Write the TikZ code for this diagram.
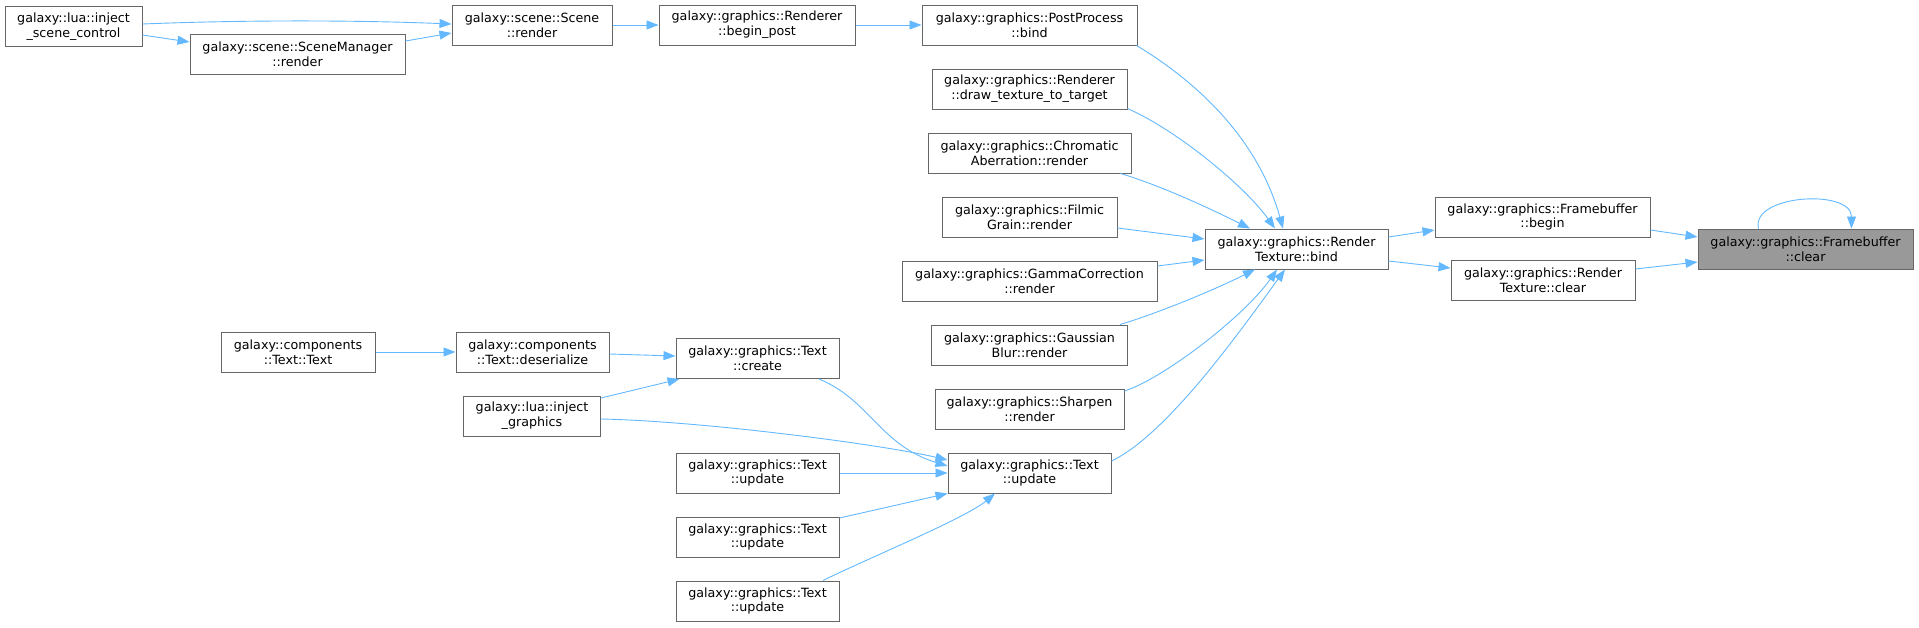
\documentclass[tikz,border=0pt]{standalone}
\usepackage{fontspec}
\setmainfont{DejaVu Sans}
\usetikzlibrary{arrows.meta}
\definecolor{edgeblue}{HTML}{63B8FF}
\definecolor{boxgray}{HTML}{666666}
\definecolor{markgray}{HTML}{999999}
\newcommand{\fnfont}{\fontsize{12.7pt}{14.7pt}\selectfont}
\tikzset{
  fnbox/.style={draw=boxgray, fill=white, line width=1pt, minimum height=40pt, inner sep=0pt, align=center, font=\fnfont},
  fnmark/.style={fnbox, fill=markgray},
  calls/.style={draw=edgeblue, line width=0.9pt, -{Triangle[length=12pt,width=9pt]}}
}
\begin{document}
\begin{tikzpicture}[x=1pt,y=-1pt]
\useasboundingbox (0,0) rectangle (1919,627);
\node[fnmark, minimum width=215pt] (fbc) at (1805.5,249){galaxy::graphics::Framebuffer\\::clear};
\node[fnbox, minimum width=215pt] (fbb) at (1542.5,217){galaxy::graphics::Framebuffer\\::begin};
\node[fnbox, minimum width=184pt] (rtc) at (1543,280){galaxy::graphics::Render\\Texture::clear};
\node[fnbox, minimum width=183pt] (rtb) at (1296.5,249){galaxy::graphics::Render\\Texture::bind};
\draw[calls] ([yshift=-13pt]fbb.east) -- ([yshift=12pt]fbc.west);
\draw[calls] ([yshift=11pt]rtc.east) -- ([yshift=-13pt]fbc.west);
\draw[calls] ([xshift=-47pt]fbc.north) .. controls +(-8,-34) and +(0,-40) .. ([xshift=46pt]fbc.north);
\draw[calls] ([yshift=12pt]rtb.east) -- ([yshift=-13pt]fbb.west);
\draw[calls] ([yshift=-12pt]rtb.east) -- ([yshift=12pt]rtc.west);
% callers of the render texture
\node[fnbox, minimum width=215pt] (ppb) at (1029.5,25){galaxy::graphics::PostProcess\\::bind};
\node[fnbox, minimum width=195pt] (dtt) at (1029.5,89){galaxy::graphics::Renderer\\::draw\_texture\_to\_target};
\node[fnbox, minimum width=203pt] (cab) at (1029.5,153){galaxy::graphics::Chromatic\\Aberration::render};
\node[fnbox, minimum width=175pt] (fgr) at (1029.5,217){galaxy::graphics::Filmic\\Grain::render};
\node[fnbox, minimum width=255pt] (gcr) at (1029.5,281){galaxy::graphics::GammaCorrection\\::render};
\node[fnbox, minimum width=196pt] (gbr) at (1029.5,345){galaxy::graphics::Gaussian\\Blur::render};
\node[fnbox, minimum width=189pt] (shr) at (1029.5,409){galaxy::graphics::Sharpen\\::render};
\node[fnbox, minimum width=163pt] (tuc) at (1029.5,473){galaxy::graphics::Text\\::update};
\draw[calls] ([xshift=-1pt]ppb.south east) .. controls +(60,36) and +(-25,-90) .. ([xshift=-13.5pt]rtb.north);
\draw[calls] ([yshift=1pt]dtt.south east) .. controls +(50,22) and +(-30,-42) .. ([xshift=-21.5pt]rtb.north);
\draw[calls] ([xshift=-11pt]cab.south east) .. controls +(40,12) and +(-40,-20) .. ([xshift=-46.5pt]rtb.north);
\draw[calls] ([yshift=-11pt]fgr.east) -- ([yshift=10pt]rtb.west);
\draw[calls] ([yshift=15pt]gcr.east) -- ([yshift=-11pt]rtb.west);
\draw[calls] ([xshift=-8pt]gbr.north east) .. controls +(40,-12) and +(-40,20) .. ([xshift=-41.5pt]rtb.south);
\draw[calls] ([yshift=18pt]shr.east) .. controls +(40,-13) and +(-32,46) .. ([xshift=-19.5pt]rtb.south);
\draw[calls] ([yshift=12pt]tuc.east) .. controls +(55,-26) and +(-45,62) .. ([xshift=-11.5pt]rtb.south);
% scene branch
\node[fnbox, minimum width=196pt] (bp) at (757,25){galaxy::graphics::Renderer\\::begin\_post};
\node[fnbox, minimum width=160pt] (scr) at (532,25){galaxy::scene::Scene\\::render};
\node[fnbox, minimum width=215pt] (smr) at (297.5,54){galaxy::scene::SceneManager\\::render};
\node[fnbox, minimum width=137pt] (isc) at (73.5,26.5){galaxy::lua::inject\\\_scene\_control};
\draw[calls] (bp) -- (ppb);
\draw[calls] (scr) -- (bp);
\draw[calls] ([yshift=13pt]smr.east) -- ([yshift=-8pt]scr.west);
\draw[calls] ([yshift=-8.5pt]isc.east) -- ([yshift=12pt]smr.west);
\draw[calls] ([yshift=2.5pt]isc.east) .. controls +(100,-4) and +(-100,-4) .. ([yshift=1pt]scr.west);
% text branch
\node[fnbox, minimum width=163pt] (tcr) at (757.5,358.5){galaxy::graphics::Text\\::create};
\node[fnbox, minimum width=163pt] (tu1) at (757.5,473){galaxy::graphics::Text\\::update};
\node[fnbox, minimum width=163pt] (tu2) at (757.5,537){galaxy::graphics::Text\\::update};
\node[fnbox, minimum width=163pt] (tu3) at (757.5,601){galaxy::graphics::Text\\::update};
\node[fnbox, minimum width=153pt] (cds) at (532.5,352){galaxy::components\\::Text::deserialize};
\node[fnbox, minimum width=137pt] (lig) at (532,416){galaxy::lua::inject\\\_graphics};
\node[fnbox, minimum width=154pt] (ctt) at (298,352){galaxy::components\\::Text::Text};
\draw[calls] (ctt) -- (cds);
\draw[calls] ([yshift=-2pt]cds.east) -- ([yshift=2.5pt]tcr.west);
\draw[calls] ([yshift=18pt]lig.east) -- ([xshift=4pt]tcr.south west);
\draw[calls] ([yshift=-3pt]lig.east) .. controls +(99,2) and +(-68,-16) .. ([yshift=13pt]tuc.west);
\draw[calls] ([xshift=61.5pt]tcr.south) .. controls +(51,21) and +(-68,-21) .. ([yshift=7pt]tuc.west);
\draw[calls] (tu1) -- (tuc);
\draw[calls] ([yshift=19pt]tu2.east) -- (tuc.south west);
\draw[calls] ([xshift=65.5pt]tu3.north) .. controls +(40,-20) and +(-30,25) .. ([xshift=-34.5pt]tuc.south);
\end{tikzpicture}
\end{document}
